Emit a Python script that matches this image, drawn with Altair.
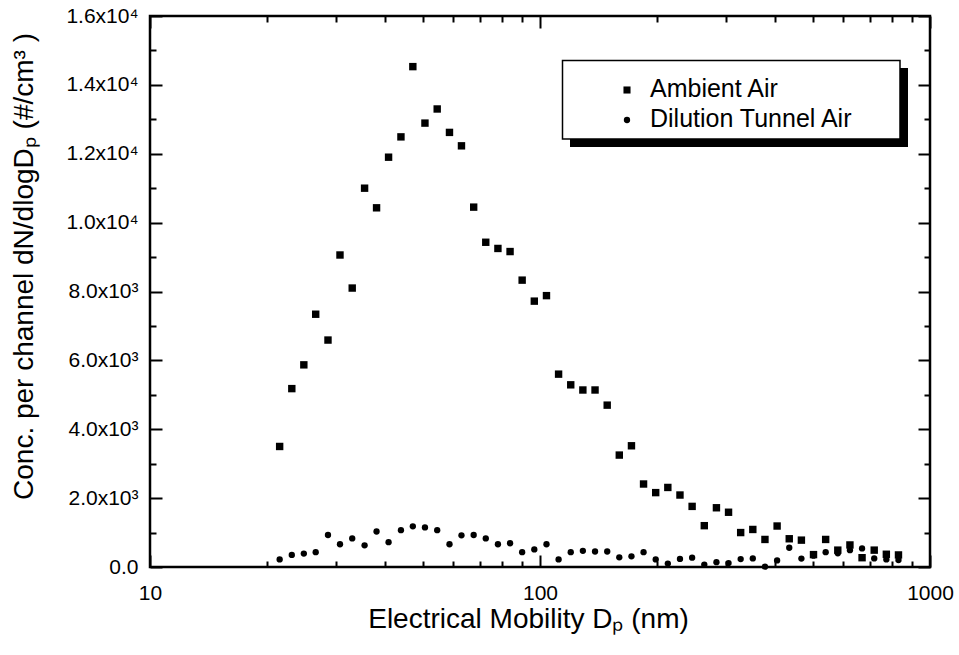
import altair as alt
import pandas as pd

# ---------------- data ----------------
DIAMETER_NM = [21.5, 23.1, 24.8, 26.6, 28.6, 30.7, 33.0, 35.5, 38.1, 40.9,
               44.0, 47.2, 50.7, 54.5, 58.6, 62.9, 67.6, 72.6, 78.0, 83.8,
               90.0, 96.7, 103.9, 111.6, 119.9, 128.8, 138.4, 148.7, 159.7, 171.6,
               184.3, 198.0, 212.7, 228.5, 245.5, 263.8, 283.4, 304.4, 327.0, 351.3,
               377.4, 405.5, 435.6, 468.0, 502.7, 540.1, 580.2, 623.3, 669.6, 719.4,
               772.8, 830.2]
AMBIENT = [3500, 5180, 5870, 7340, 6590, 9060, 8100, 11000, 10430, 11900,
           12490, 14530, 12890, 13300, 12620, 12230, 10450, 9430, 9250, 9160,
           8330, 7720, 7880, 5600, 5290, 5140, 5140, 4700, 3250, 3520,
           2410, 2160, 2310, 2090, 1760, 1200, 1720, 1590, 1000, 1090,
           800, 1190, 820, 780, 360, 800, 490, 640, 270, 490,
           370, 350]
DILUTION = [220, 350, 390, 430, 930, 660, 830, 630, 1030, 720,
            1070, 1180, 1150, 1070, 660, 920, 930, 830, 660, 690,
            430, 510, 660, 220, 430, 470, 450, 450, 280, 310,
            430, 220, 100, 235, 270, 70, 140, 115, 230, 250,
            10, 190, 560, 245, 330, 430, 400, 490, 540, 250,
            220, 200]
SERIES = ["Ambient Air", "Dilution Tunnel Air"]

X_MAJOR = [10, 100, 1000]
X_MINOR = [20, 30, 40, 50, 60, 70, 80, 90, 200, 300, 400, 500, 600, 700, 800, 900]
Y_MAJOR = [0, 2000, 4000, 6000, 8000, 10000, 12000, 14000, 16000]
Y_MINOR = [1000, 3000, 5000, 7000, 9000, 11000, 13000, 15000]
X_DOMAIN = [10, 1000]
Y_DOMAIN = [0, 16000]

X_TITLE = "Electrical Mobility D\u209a (nm)"
Y_TITLE = "Conc. per channel dN/dlogD\u209a (#/cm\u00b3 )"

# ---------------- layout / style ----------------
W, H = 780, 551
FONT = "Liberation Sans"
MAJ = alt.ExprRef(expr="-12")   # inward major ticks
MIN = alt.ExprRef(expr="-6")    # inward minor ticks

n = len(DIAMETER_NM)
df = pd.DataFrame({
    "d": DIAMETER_NM + DIAMETER_NM,
    "c": AMBIENT + DILUTION,
    "s": [SERIES[0]] * n + [SERIES[1]] * n,
})

xs = alt.Scale(type="log", domain=X_DOMAIN, nice=False)
ys = alt.Scale(domain=Y_DOMAIN, nice=False, zero=False)

y_label_expr = ("datum.value == 0 ? '0.0' : (datum.value >= 10000 ? "
                "format(datum.value / 10000, '.1f') + 'x10\u2074' : "
                "format(datum.value / 1000, '.1f') + 'x10\u00b3')")

points = alt.Chart(df).mark_point(filled=True, opacity=1, color="black").encode(
    x=alt.X("d:Q", scale=xs, axis=alt.Axis(
        orient="bottom", values=X_MAJOR, format="d", title=X_TITLE, grid=False,
        ticks=True, tickSize=MAJ, tickColor="black", tickWidth=2,
        domain=False, labelFont=FONT, labelFontSize=21,
        labelColor="black", labelPadding=27, labelFlush=False,
        titleFont=FONT, titleFontSize=28, titleFontWeight="normal",
        titleColor="black", titleX=378, titleY=60, titleBaseline="alphabetic")),
    y=alt.Y("c:Q", scale=ys, axis=alt.Axis(
        orient="left", values=Y_MAJOR, labelExpr=y_label_expr, title=Y_TITLE,
        grid=False, ticks=True, tickSize=MAJ, tickColor="black",
        tickWidth=2, domain=False, labelFont=FONT,
        labelFontSize=21, labelColor="black", labelPadding=24,
        labelFlush=False,
        titleFont=FONT, titleFontSize=28, titleFontWeight="normal",
        titleColor="black", titleX=-118, titleY=250,
        titleBaseline="alphabetic")),
    shape=alt.Shape("s:N", scale=alt.Scale(domain=SERIES, range=["square", "circle"]), legend=None),
    size=alt.Size("s:N", scale=alt.Scale(domain=SERIES, range=[55, 40]), legend=None),
)


def tick_axis(orient, vals, size):
    return alt.Axis(orient=orient, values=vals, labels=False, title=None,
                    grid=False, domain=False, ticks=True, tickSize=size,
                    tickColor="black", tickWidth=2)


def tick_layer(x_orient, x_vals, y_orient, y_vals, size):
    return alt.Chart(df).mark_point(opacity=0).encode(
        x=alt.X("d:Q", scale=xs, axis=tick_axis(x_orient, x_vals, size)),
        y=alt.Y("c:Q", scale=ys, axis=tick_axis(y_orient, y_vals, size)),
    )


minor_bl = tick_layer("bottom", X_MINOR, "left", Y_MINOR, MIN)
major_tr = tick_layer("top", X_MAJOR, "right", Y_MAJOR, MAJ)
minor_tr = tick_layer("top", X_MINOR, "right", Y_MINOR, MIN)

one = pd.DataFrame({"a": [0]})
shadow = alt.Chart(one).mark_rect(color="black").encode(
    x=alt.value(420), x2=alt.value(758), y=alt.value(52), y2=alt.value(131))
box = alt.Chart(one).mark_rect(fill="white", stroke="black", strokeWidth=1.5).encode(
    x=alt.value(412.5), x2=alt.value(750), y=alt.value(44.5), y2=alt.value(123))
sym1 = alt.Chart(one).mark_point(shape="square", filled=True, opacity=1, color="black", size=50).encode(
    x=alt.value(477), y=alt.value(74))
sym2 = alt.Chart(one).mark_point(shape="circle", filled=True, opacity=1, color="black", size=40).encode(
    x=alt.value(477), y=alt.value(104))
txt1 = alt.Chart(one).mark_text(align="left", baseline="middle", font=FONT, fontSize=25, color="black").encode(
    x=alt.value(500), y=alt.value(73), text=alt.value(SERIES[0]))
txt2 = alt.Chart(one).mark_text(align="left", baseline="middle", font=FONT, fontSize=25, color="black").encode(
    x=alt.value(500), y=alt.value(103), text=alt.value(SERIES[1]))

chart = alt.layer(points, minor_bl, major_tr, minor_tr,
                  shadow, box, sym1, sym2, txt1, txt2).resolve_axis(
    x="independent", y="independent"
).properties(
    width=W, height=H,
    autosize=alt.AutoSizeParams(type="none"),
    padding={"left": 150, "top": 16, "right": 29, "bottom": 88},
).configure_view(stroke="black", strokeWidth=2.5)

chart.save("out.html", embed_options={"renderer": "svg", "actions": False})
